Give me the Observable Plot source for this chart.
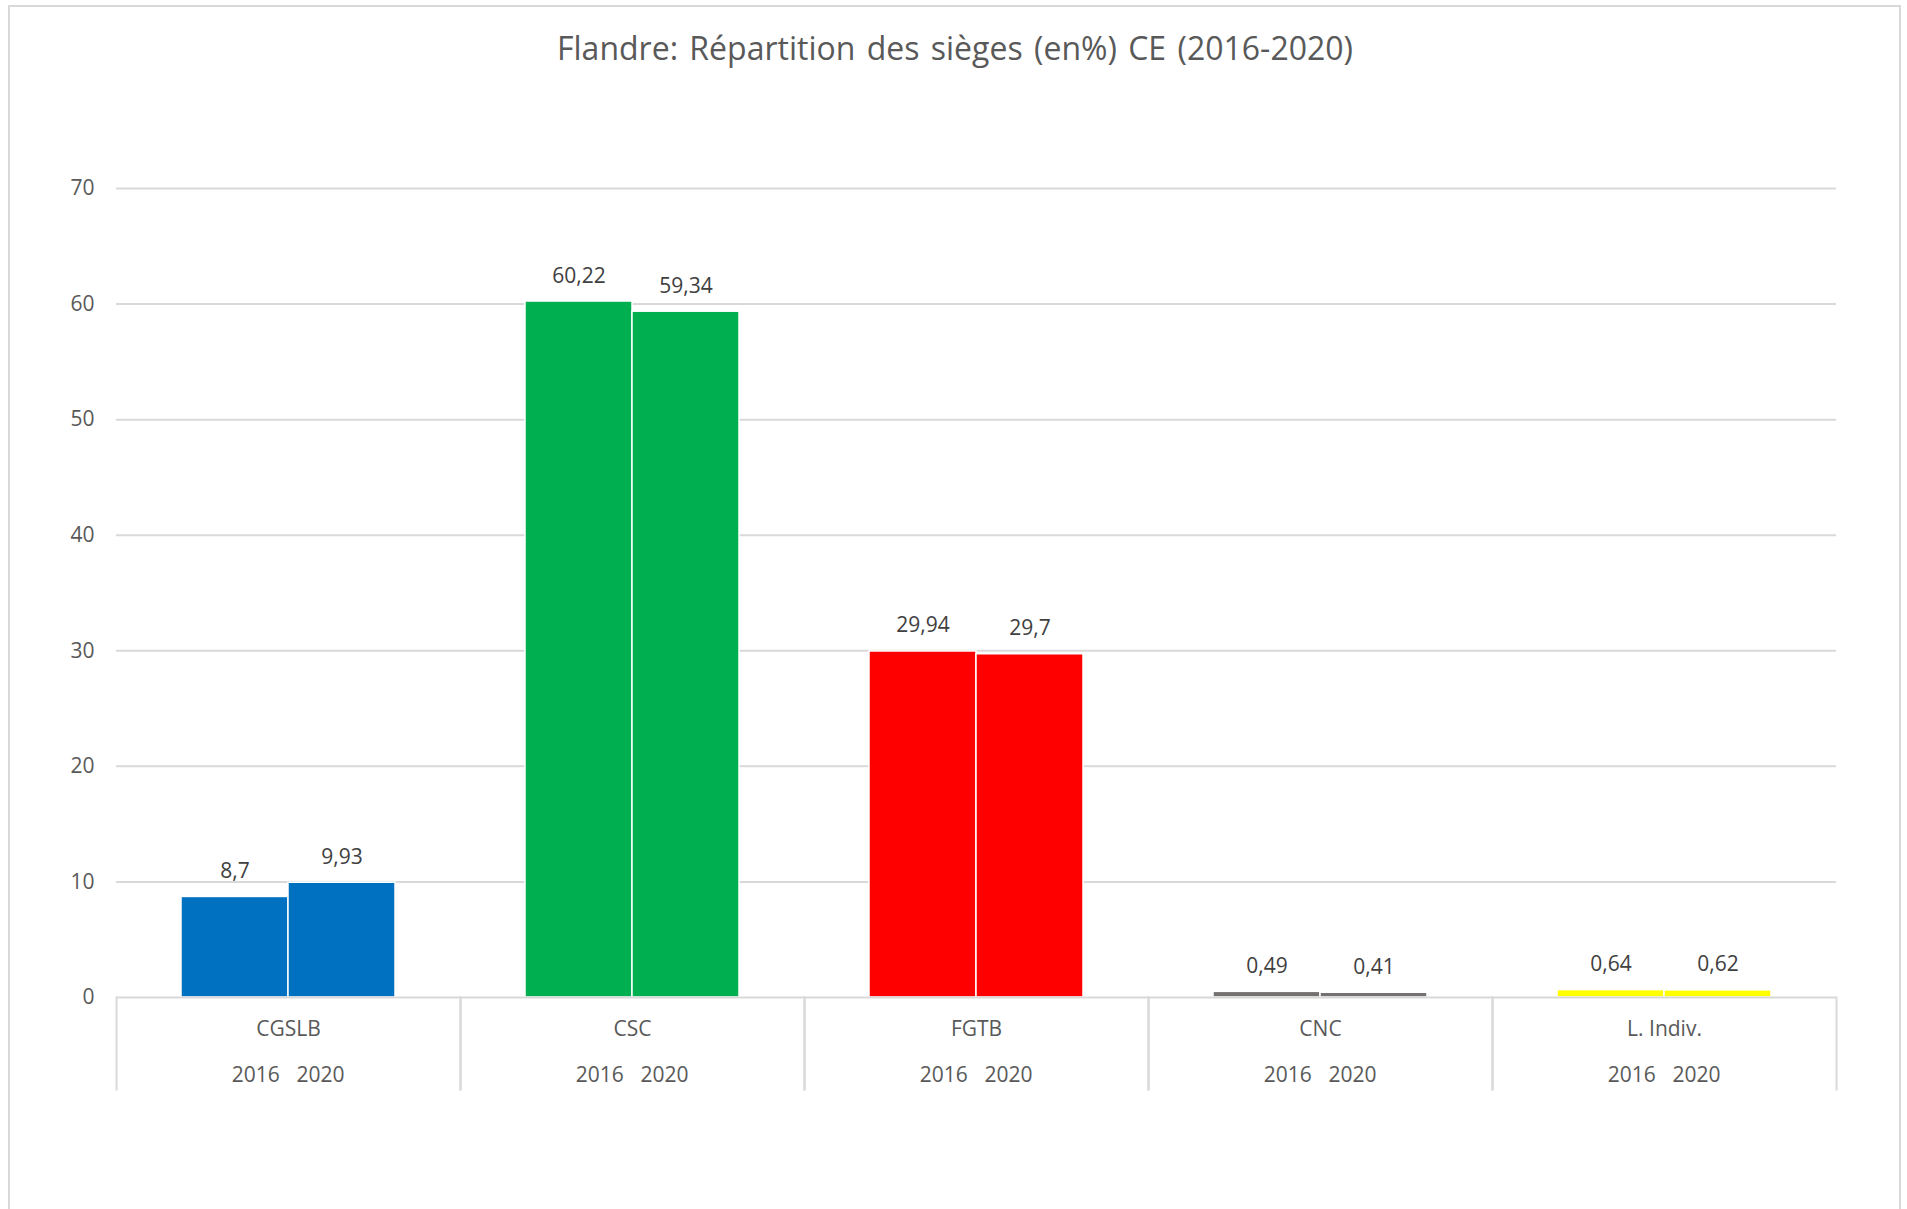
<!DOCTYPE html>
<html>
<head>
<meta charset="utf-8">
<script src="https://cdn.jsdelivr.net/npm/d3@7"></script>
<script src="https://cdn.jsdelivr.net/npm/@observablehq/plot@0.6"></script>
<style>
  html, body { margin: 0; padding: 0; background: #fff; overflow: hidden; }
  #wrap { position: relative; width: 1907px; height: 1209px; }
  #border { position: absolute; left: 8px; top: 5px; width: 1893px; height: 1300px; border: 2px solid #d9d9d9; box-sizing: border-box; }
  #title { position: absolute; left: 0; top: 31.6px; width: 1910px; text-align: center; font-family: 'Open Sans', sans-serif; font-size: 32px; line-height: 32px; word-spacing: 3px; color: #595959; white-space: nowrap; }
  #chart { position: absolute; left: 0; top: 0; }
</style>
</head>
<body>
<div id="wrap">
  <div id="border"></div>
  <div id="title">Flandre: Répartition des sièges (en%) CE (2016-2020)</div>
  <div id="chart"></div>
</div>
<script>
const categories = ["CGSLB", "CSC", "FGTB", "CNC", "L. Indiv."];
const years = ["2016", "2020"];
const values2016 = [8.7, 60.22, 29.94, 0.49, 0.64];
const values2020 = [9.93, 59.34, 29.7, 0.41, 0.62];
const colors = ["#0070C0", "#00B050", "#FF0000", "#767171", "#FFFF00"];
const yTicks = [0, 10, 20, 30, 40, 50, 60, 70];

const data = categories.flatMap((c, i) => [
  {category: c, year: years[0], value: values2016[i]},
  {category: c, year: years[1], value: values2020[i]}
]);
const fmt = v => String(v).replace(".", ",");
const grid = "#d9d9d9";

const chart = Plot.plot({
  width: 1907,
  height: 1209,
  marginLeft: 114,
  marginRight: 69,
  marginTop: 188,
  marginBottom: 212,
  style: {fontFamily: "'Open Sans', sans-serif", fontSize: "21px", color: "#595959", background: "transparent", overflow: "visible"},
  fx: {domain: categories, padding: 0, axis: null},
  x: {domain: years, paddingInner: 0, paddingOuter: 0.593, axis: null},
  y: {domain: [0, 70], ticks: yTicks, tickSize: 0, tickPadding: 22, label: null, tickFormat: d => String(d)},
  color: {domain: categories, range: colors},
  marks: [
    Plot.ruleY(yTicks.filter(t => t > 0), {stroke: grid, strokeWidth: 2}),
    Plot.barY(data, {fx: "category", x: "year", y: "value", fill: "category", stroke: "white", strokeWidth: 1.5}),
    Plot.ruleY([0], {stroke: grid, strokeWidth: 2}),
    Plot.frame({anchor: "left", stroke: grid, strokeWidth: 2, insetTop: 809, insetBottom: -92}),
    Plot.frame({anchor: "right", stroke: grid, strokeWidth: 2, insetTop: 809, insetBottom: -92}),
    Plot.text(data, {fx: "category", x: "year", y: "value", text: d => fmt(d.value), lineAnchor: "bottom", dy: -19, fill: "#404040", fontSize: 21}),
    Plot.text(categories, {fx: d => d, frameAnchor: "bottom", text: d => d, lineAnchor: "middle", dy: 31.6, fill: "#595959", fontSize: 21}),
    Plot.text(categories, {fx: d => d, frameAnchor: "bottom", text: () => years[0], textAnchor: "end", lineAnchor: "middle", dx: -8.7, dy: 77.6, fill: "#595959", fontSize: 21}),
    Plot.text(categories, {fx: d => d, frameAnchor: "bottom", text: () => years[1], textAnchor: "start", lineAnchor: "middle", dx: 8, dy: 77.6, fill: "#595959", fontSize: 21})
  ]
});
document.getElementById("chart").appendChild(chart);
</script>
</body>
</html>
